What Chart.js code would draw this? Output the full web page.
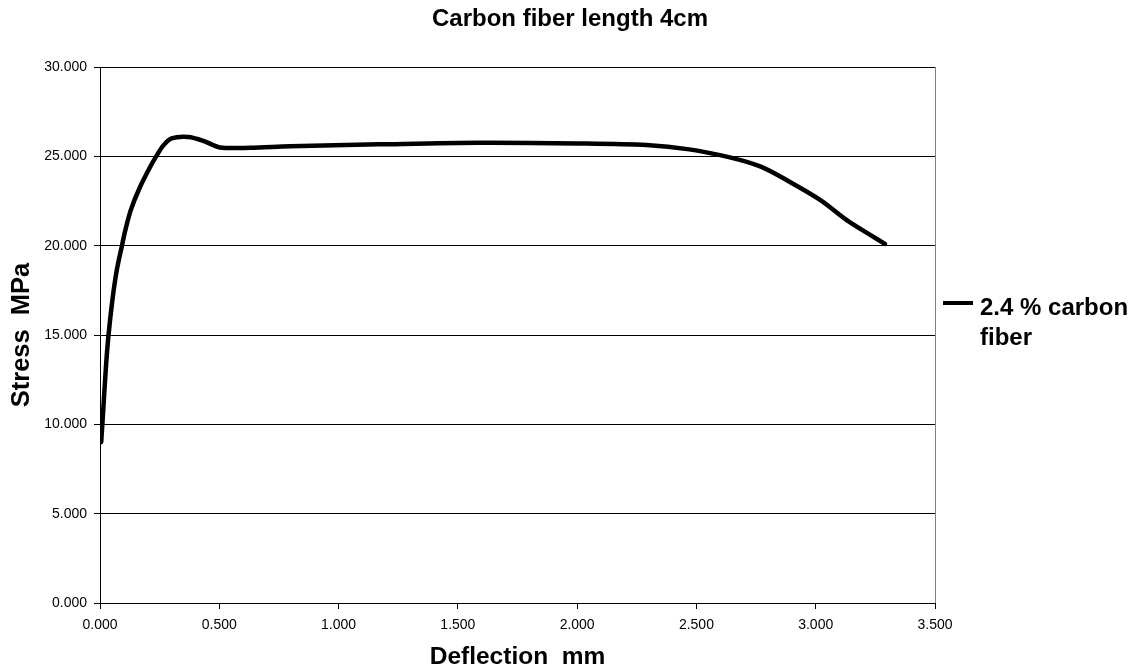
<!DOCTYPE html>
<html>
<head>
<meta charset="utf-8">
<script src="https://cdn.jsdelivr.net/npm/chart.js@4.4.1/dist/chart.umd.min.js"></script>
<style>
  html, body { margin: 0; padding: 0; background: #fff; }
  #wrap { width: 1144px; height: 670px; position: relative; }
</style>
</head>
<body>
<div id="wrap"><canvas id="c" width="1144" height="670"></canvas></div>
<script>
const chartTitle = "Carbon fiber length 4cm";
const xAxisTitle = "Deflection  mm";
const yAxisTitle = "Stress  MPa";
const seriesLabel = ["2.4 % carbon", "fiber"];

const deflection = [0.005, 0.011, 0.024, 0.035, 0.052, 0.070, 0.091, 0.105, 0.129, 0.165, 0.210, 0.238, 0.265, 0.300, 0.370, 0.433, 0.503, 0.629, 0.796, 1.17, 1.59, 2.01, 2.29, 2.47, 2.64, 2.77, 2.89, 3.02, 3.13, 3.23, 3.29];
const stress = [9.0, 10.24, 13.04, 14.9, 16.96, 18.6, 19.94, 20.8, 21.99, 23.2, 24.4, 25.05, 25.6, 26.0, 26.08, 25.87, 25.5, 25.48, 25.57, 25.67, 25.76, 25.72, 25.63, 25.39, 24.94, 24.42, 23.58, 22.55, 21.43, 20.59, 20.1];

const xTicks = [0, 0.5, 1.0, 1.5, 2.0, 2.5, 3.0, 3.5];
const yTicks = [0, 5, 10, 15, 20, 25, 30];

const points = deflection.map((d, i) => ({ x: d, y: stress[i] }));
const FONT = "Arial, 'Liberation Sans', Helvetica, sans-serif";

const decorPlugin = {
  id: 'decor',
  afterDraw(chart) {
    const ctx = chart.ctx;
    const ca = chart.chartArea;
    ctx.save();
    // right frame line
    ctx.strokeStyle = '#808080';
    ctx.lineWidth = 1;
    ctx.beginPath();
    ctx.moveTo(Math.round(ca.right) + 0.5, ca.top);
    ctx.lineTo(Math.round(ca.right) + 0.5, ca.bottom);
    ctx.stroke();
    // title
    ctx.fillStyle = '#000';
    ctx.font = "bold 24px " + FONT;
    ctx.textAlign = 'center';
    ctx.textBaseline = 'alphabetic';
    ctx.fillText(chartTitle, 570, 26);
    // legend
    const ds = chart.data.datasets[0];
    ctx.strokeStyle = ds.borderColor;
    ctx.lineWidth = 4;
    ctx.beginPath();
    ctx.moveTo(943, 303);
    ctx.lineTo(973, 303);
    ctx.stroke();
    ctx.font = "bold 24px " + FONT;
    ctx.textAlign = 'left';
    const lbl = ds.label;
    lbl.forEach((t, i) => ctx.fillText(t, 980, 315 + i * 30));
    ctx.restore();
  }
};

new Chart(document.getElementById('c'), {
  type: 'scatter',
  data: {
    datasets: [{
      label: seriesLabel,
      data: points,
      showLine: true,
      borderColor: '#000',
      backgroundColor: '#000',
      borderWidth: 4.5,
      pointRadius: 0,
      tension: 0.3,
      borderCapStyle: 'round',
      borderJoinStyle: 'round',
      fill: false
    }]
  },
  options: {
    responsive: false,
    animation: false,
    devicePixelRatio: 1,
    layout: { padding: { top: 67, right: 209, bottom: 0, left: 0 } },
    plugins: { legend: { display: false }, title: { display: false }, tooltip: { enabled: false } },
    scales: {
      x: {
        type: 'linear',
        min: 0, max: 3.5,
        afterBuildTicks(scale) { scale.ticks = xTicks.map(v => ({ value: v })); },
        afterFit(scale) { scale.height = 67; },
        ticks: {
          color: '#000',
          font: { family: FONT, size: 14 },
          padding: 8,
          maxRotation: 0,
          autoSkip: false,
          callback: v => Number(v).toFixed(3)
        },
        grid: { drawOnChartArea: false, color: '#000', tickLength: 6, tickColor: '#000' },
        border: { color: '#000', width: 1 },
        title: {
          display: true, text: xAxisTitle, color: '#000',
          font: { family: FONT, size: 24.5, weight: 'bold', lineHeight: 1.0 },
          padding: { top: 0, bottom: 1 }
        }
      },
      y: {
        type: 'linear',
        min: 0, max: 30,
        afterBuildTicks(scale) { scale.ticks = yTicks.map(v => ({ value: v })); },
        afterFit(scale) { scale.width = 100; },
        ticks: {
          color: '#000',
          font: { family: FONT, size: 14 },
          padding: 7,
          autoSkip: false,
          callback: v => Number(v).toFixed(3)
        },
        grid: { drawOnChartArea: true, color: '#000', tickLength: 6, tickColor: '#000' },
        border: { color: '#000', width: 1 },
        title: {
          display: true, text: yAxisTitle, color: '#000',
          font: { family: FONT, size: 25.5, weight: 'bold', lineHeight: 1.0 },
          padding: { top: 9, bottom: 0 }
        }
      }
    }
  },
  plugins: [decorPlugin]
});
</script>
</body>
</html>
